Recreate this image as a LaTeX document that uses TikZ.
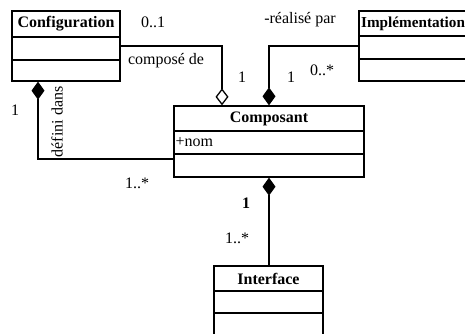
\documentclass[tikz,border=0pt]{standalone}
\usepackage{fontspec}
\setmainfont{Liberation Serif}
\usetikzlibrary{arrows.meta}

\tikzset{
	classbox/.style={draw, rectangle, inner sep=0pt},
	classname/.style={font=\fontsize{16}{19}\selectfont\bfseries, inner sep=0pt},
	lbl/.style={font=\fontsize{16}{19}\selectfont, inner sep=0pt},
	compo/.style={{Diamond[length=18pt, width=13pt]}-},
	aggreg/.style={-{Diamond[open, length=17pt, width=13pt]}},
}

\begin{document}
\begin{tikzpicture}[x=1pt, y=-1pt, line width=1.3pt]
	\useasboundingbox (0,0) rectangle (465,334);
	\clip (0,0) rectangle (465,334);
	\node[classbox, minimum width=108pt, minimum height=70pt] (conf) at (66,46) {};
	\node[classname] (confname) at (66,24) {Configuration};
	\draw (12,37) -- (120,37);
	\draw (12,60) -- (120,60);
	\node[classbox, minimum width=113pt, minimum height=70pt] (impl) at (415.5,46) {};
	\node[classname, anchor=west, font=\fontsize{15.2}{18}\selectfont\bfseries] (implname) at (360.5,24) {Implémentation};
	\draw (359,36) -- (472,36);
	\draw (359,59) -- (472,59);
	\node[classbox, minimum width=190pt, minimum height=71pt] (comp) at (269,141.5) {};
	\node[classname] (compname) at (269,119) {Composant};
	\node[lbl, anchor=west] (nom) at (175,142) {+nom};
	\draw (174,131) -- (364,131);
	\draw (174,154) -- (364,154);
	\node[classbox, minimum width=109pt, minimum height=70pt] (intf) at (268.5,301) {};
	\node[classname] (intfname) at (268.5,279) {Interface};
	\draw (214,291) -- (323,291);
	\draw (214,313) -- (323,313);
	\draw[aggreg] (conf.east) -| ([xshift=-47pt]comp.north);
	\draw[compo] ([xshift=0pt]comp.north) |- (impl.west);
	\draw[compo] ([xshift=-28pt]conf.south) |- ([yshift=-17.5pt]comp.west);
	\draw[compo] (comp.south) -- (comp.south |- intf.north);
	\node[lbl] (m01) at (153,22) {0..1};
	\node[lbl] (compose) at (166,61) {composé de};
	\node[lbl] (m1a) at (242,77) {1};
	\node[lbl] (m1b) at (291,77) {1};
	\node[lbl] (m0n) at (322,70) {0..*};
	\node[lbl] (realise) at (300,20) {-réalisé par};
	\node[lbl] (m1c) at (15,110) {1};
	\node[lbl, rotate=90] (defini) at (57,122) {défini dans};
	\node[lbl] (m1n) at (137,183) {1..*};
	\node[lbl, font=\fontsize{16}{19}\selectfont\bfseries] (m1d) at (246,203) {1};
	\node[lbl] (m1m) at (237,238) {1..*};
\end{tikzpicture}
\end{document}
